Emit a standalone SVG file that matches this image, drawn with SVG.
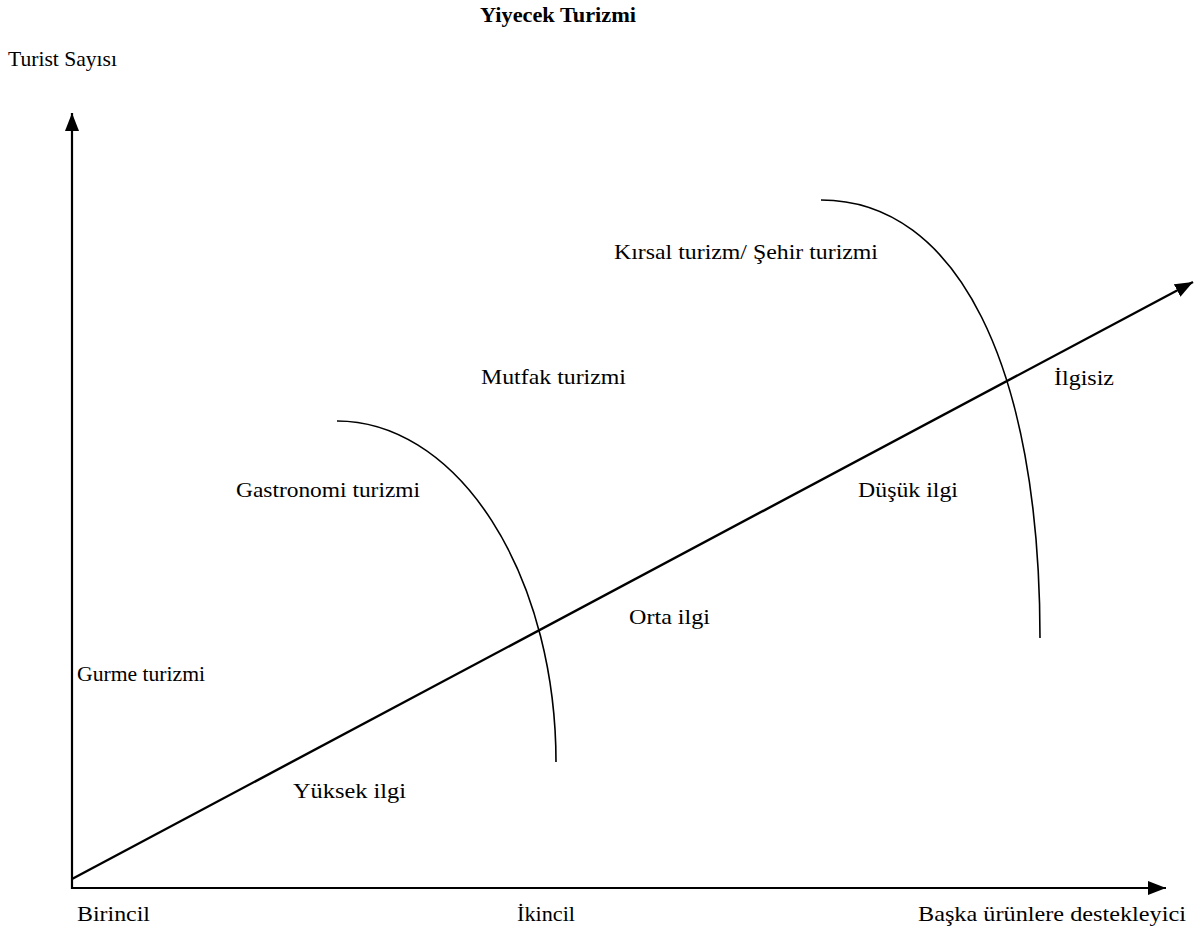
<svg xmlns="http://www.w3.org/2000/svg" width="1197" height="932" viewBox="0 0 1197 932">
  <style>
    text { font-family: "Liberation Serif", "Times New Roman", serif; font-size: 22px; fill: #000; }
    .title { font-weight: bold; }
    .axis { stroke: #000; stroke-width: 2.2; fill: none; }
    .trend { stroke: #000; stroke-width: 2.4; fill: none; }
    .arc { stroke: #000; stroke-width: 1.6; fill: none; }
  </style>
  <defs>
    <marker id="head" markerUnits="userSpaceOnUse" markerWidth="20" markerHeight="16" refX="18" refY="7" orient="auto">
      <path d="M0,0 L18,7 L0,14 Z" fill="#000"/>
    </marker>
  </defs>

  <!-- title and axis labels -->
  <g id="title"><text class="title" x="480" y="22" textLength="156" lengthAdjust="spacingAndGlyphs">Yiyecek Turizmi</text></g>
  <g id="y-label"><text x="8" y="66" textLength="109" lengthAdjust="spacingAndGlyphs">Turist Sayısı</text></g>
  <g id="x-label-1"><text x="77" y="921" textLength="73" lengthAdjust="spacingAndGlyphs">Birincil</text></g>
  <g id="x-label-2"><text x="517" y="921" textLength="58" lengthAdjust="spacingAndGlyphs">İkincil</text></g>
  <g id="x-label-3"><text x="918" y="921" textLength="268" lengthAdjust="spacingAndGlyphs">Başka ürünlere destekleyici</text></g>

  <!-- region labels -->
  <g id="kirsal"><text x="614" y="259" textLength="264" lengthAdjust="spacingAndGlyphs">Kırsal turizm/ Şehir turizmi</text></g>
  <g id="mutfak"><text x="481" y="384" textLength="145" lengthAdjust="spacingAndGlyphs">Mutfak turizmi</text></g>
  <g id="ilgisiz"><text x="1054" y="385" textLength="60" lengthAdjust="spacingAndGlyphs">İlgisiz</text></g>
  <g id="gastronomi"><text x="236" y="497" textLength="184" lengthAdjust="spacingAndGlyphs">Gastronomi turizmi</text></g>
  <g id="dusuk"><text x="858" y="497" textLength="100" lengthAdjust="spacingAndGlyphs">Düşük ilgi</text></g>
  <g id="orta"><text x="629" y="624" textLength="81" lengthAdjust="spacingAndGlyphs">Orta ilgi</text></g>
  <g id="gurme"><text x="77" y="681" textLength="128" lengthAdjust="spacingAndGlyphs">Gurme turizmi</text></g>
  <g id="yuksek"><text x="293" y="798" textLength="113" lengthAdjust="spacingAndGlyphs">Yüksek ilgi</text></g>

  <!-- axes, trend line and boundary arcs -->
  <g id="connectors">
    <line class="axis" x1="72" y1="889" x2="72" y2="113" marker-end="url(#head)"/>
    <line class="axis" x1="71" y1="888" x2="1166" y2="888" marker-end="url(#head)"/>
    <line class="trend" x1="72" y1="879" x2="1193" y2="282" marker-end="url(#head)"/>
    <path class="arc" d="M337,421 A219,341 0 0 1 556,762"/>
    <path class="arc" d="M821,200 C957,200 1040,366 1040,638"/>
  </g>
</svg>
